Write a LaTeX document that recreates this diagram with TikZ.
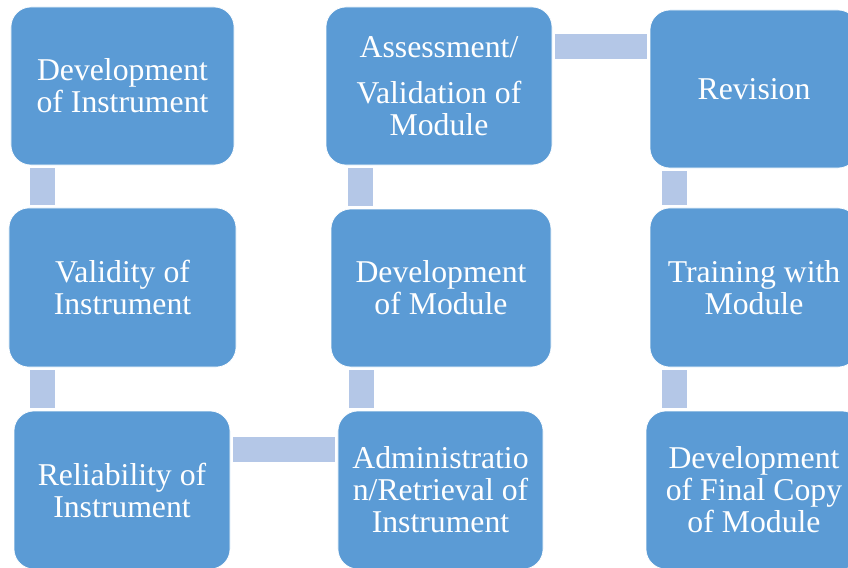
\documentclass[tikz,border=0pt]{standalone}
\usepackage{fontspec}
\setmainfont{Liberation Serif}
\definecolor{stageblue}{RGB}{91,155,213}
\definecolor{linkblue}{RGB}{180,199,231}

\begin{document}
\begin{tikzpicture}[x=0.75pt,y=-0.75pt,
  every node/.style={font=\fontsize{23.8}{24}\selectfont},
  stage/.style={fill=stageblue,draw=white,line width=0.5pt,rounded corners=15pt,
    text=white,align=center,inner sep=0pt,minimum height=118.5pt},
  link/.style={draw=linkblue,line width=18.75pt,shorten <=2.25pt,shorten >=2.25pt}]
  \useasboundingbox (0,0) rectangle (848,567);
  \node[stage,minimum width=167.3pt] (devinst) at (122.5,86) {Development\\of Instrument};
  \node[stage,minimum width=170.3pt,minimum height=119.3pt] (valid) at (122.5,287.5) {Validity of\\Instrument};
  \node[stage,minimum width=162pt] (reliab) at (122,490) {Reliability of\\Instrument};
  \node[stage,minimum width=153.8pt] (admin) at (440.5,490) {Administratio\\n/Retrieval of\\Instrument};
  \node[stage,minimum width=165pt] (devmod) at (441,288) {Development\\of Module};
  \node[stage,minimum width=169.5pt] (assess) at (439,86) {Assessment/\\[10.5pt]Validation of\\Module};
  \node[stage,minimum width=156pt] (revis) at (754,89) {Revision};
  \node[stage,minimum width=156pt,minimum height=119.3pt] (train) at (754,287.5) {Training with\\Module};
  \node[stage,minimum width=162pt] (final) at (754,490) {Development\\of Final Copy\\of Module};
  \draw[link] ([xshift=23.6pt]devinst.south west) -- ([xshift=23.6pt]devinst.south west |- valid.north);
  \draw[link] ([xshift=25.1pt]valid.south west) -- ([xshift=25.1pt]valid.south west |- reliab.north);
  \draw[link] ([yshift=-28.9pt]reliab.north east) -- ([yshift=-28.9pt]reliab.north east -| admin.west);
  \draw[link] ([xshift=17.6pt]admin.north west) -- ([xshift=17.6pt]admin.north west |- devmod.south);
  \draw[link] ([xshift=22.1pt]devmod.north west) -- ([xshift=22.1pt]devmod.north west |- assess.south);
  \draw[link] ([yshift=-30pt]assess.north east) -- ([yshift=-30pt]assess.north east -| revis.west);
  \draw[link] ([xshift=18.4pt]revis.south west) -- ([xshift=18.4pt]revis.south west |- train.north);
  \draw[link] ([xshift=18.4pt]train.south west) -- ([xshift=18.4pt]train.south west |- final.north);
\end{tikzpicture}
\end{document}
